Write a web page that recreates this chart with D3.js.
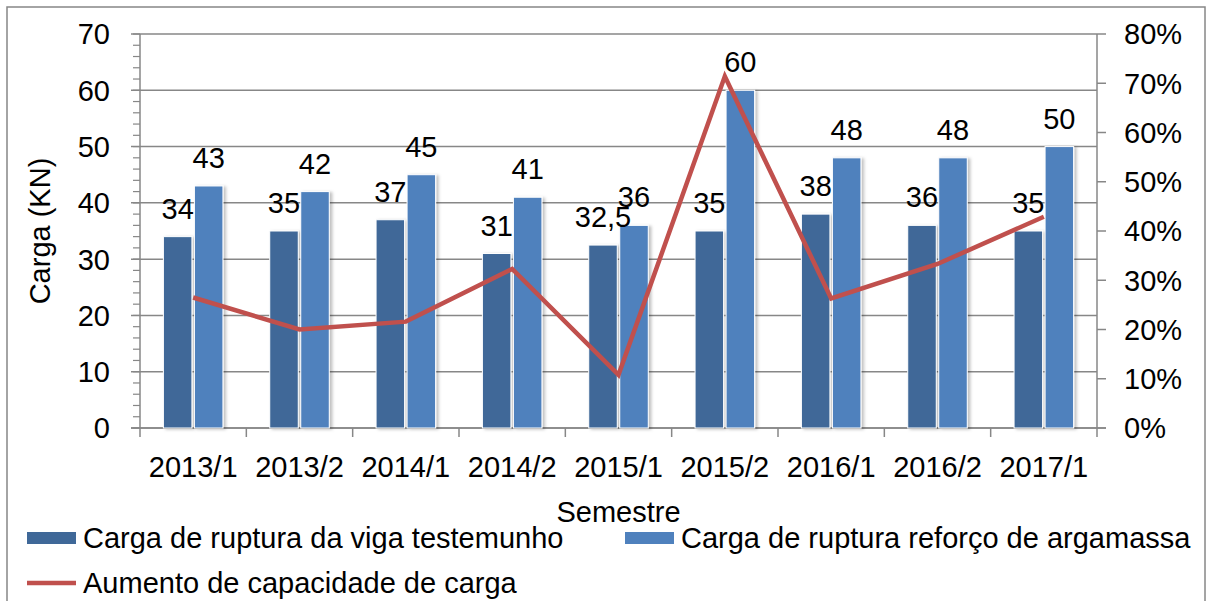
<!DOCTYPE html>
<html>
<head>
<meta charset="utf-8">
<script src="https://cdn.jsdelivr.net/npm/d3@7"></script>
<style>
  body { margin: 0; background: #fff; }
  text { font-family: "Liberation Sans", Arial, sans-serif; fill: #000; }
</style>
</head>
<body>
<svg id="chart" width="1208" height="601"></svg>
<script>
let semesters = ["2013/1", "2013/2", "2014/1", "2014/2", "2015/1", "2015/2", "2016/1", "2016/2", "2017/1"];
let cargaTestemunho = [34, 35, 37, 31, 32.5, 35, 38, 36, 35];
let cargaReforco = [43, 42, 45, 41, 36, 60, 48, 48, 50];
let aumentoCapacidade = [0.265, 0.20, 0.216, 0.323, 0.108, 0.714, 0.263, 0.333, 0.429];
let leftTicks = [0, 10, 20, 30, 40, 50, 60, 70];
let rightTicks = [0, 0.1, 0.2, 0.3, 0.4, 0.5, 0.6, 0.7, 0.8];
let seriesNames = ["Carga de ruptura da viga testemunho", "Carga de ruptura reforço de argamassa", "Aumento de capacidade de carga"];

let svg = d3.select("#chart");
let fontSize = 29;
let darkBlue = "#3F6898";
let lightBlue = "#4F81BD";
let red = "#C0504D";
let axisGrey = "#878787";

let plotLeft = 140, plotRight = 1097, plotTop = 34, plotBottom = 428;

let x = d3.scaleBand().domain(semesters).range([plotLeft, plotRight]);
let xSub = d3.scaleBand().domain(["t", "r"])
  .range([x.bandwidth() * 0.22, x.bandwidth() * 0.78])
  .paddingInner(0.08);
let y = d3.scaleLinear().domain([0, 70]).range([plotBottom, plotTop]);
let yRight = d3.scaleLinear().domain([0, 0.8]).range([plotBottom, plotTop]);

// shadow filter for bars
let defs = svg.append("defs");
defs.append("filter").attr("id", "shadow")
  .attr("x", "-20%").attr("y", "-5%").attr("width", "150%").attr("height", "115%")
  .append("feDropShadow")
  .attr("dx", 2.5).attr("dy", 1).attr("stdDeviation", 1.5)
  .attr("flood-color", "#000").attr("flood-opacity", 0.25);

// outer border
svg.append("rect")
  .attr("x", 7).attr("y", 7).attr("width", 1198).attr("height", 600)
  .attr("fill", "none").attr("stroke", axisGrey).attr("stroke-width", 1.5);

// gridlines
svg.append("g").selectAll("line")
  .data(leftTicks)
  .enter().append("line")
  .attr("x1", plotLeft - 9).attr("x2", plotRight)
  .attr("y1", d => y(d)).attr("y2", d => y(d))
  .attr("stroke", axisGrey).attr("stroke-width", 1.5);

// left minor ticks
svg.append("g").selectAll("line")
  .data(d3.range(0, 71, 2))
  .enter().append("line")
  .attr("x1", plotLeft - 7).attr("x2", plotLeft)
  .attr("y1", d => y(d)).attr("y2", d => y(d))
  .attr("stroke", axisGrey).attr("stroke-width", 1.2);

// axis lines
svg.append("line").attr("x1", plotLeft).attr("x2", plotLeft).attr("y1", plotTop).attr("y2", plotBottom + 9)
  .attr("stroke", axisGrey).attr("stroke-width", 1.5);
svg.append("line").attr("x1", plotRight).attr("x2", plotRight).attr("y1", plotTop).attr("y2", plotBottom + 9)
  .attr("stroke", axisGrey).attr("stroke-width", 1.5);
svg.append("line").attr("x1", plotLeft - 9).attr("x2", plotRight + 9).attr("y1", plotBottom).attr("y2", plotBottom)
  .attr("stroke", axisGrey).attr("stroke-width", 1.5);

// x ticks at category boundaries
svg.append("g").selectAll("line")
  .data(semesters.slice(1))
  .enter().append("line")
  .attr("x1", d => x(d)).attr("x2", d => x(d))
  .attr("y1", plotBottom).attr("y2", plotBottom + 9)
  .attr("stroke", axisGrey).attr("stroke-width", 1.5);

// right ticks
svg.append("g").selectAll("line")
  .data(rightTicks)
  .enter().append("line")
  .attr("x1", plotRight).attr("x2", plotRight + 9)
  .attr("y1", d => yRight(d)).attr("y2", d => yRight(d))
  .attr("stroke", axisGrey).attr("stroke-width", 1.5);

// bars
let groups = svg.append("g").selectAll("g")
  .data(semesters)
  .enter().append("g")
  .attr("transform", d => "translate(" + x(d) + ",0)");

groups.append("rect")
  .attr("x", xSub("t")).attr("width", xSub.bandwidth())
  .attr("y", (d, i) => y(cargaTestemunho[i]))
  .attr("height", (d, i) => plotBottom - y(cargaTestemunho[i]))
  .attr("fill", darkBlue).attr("stroke", "#fff").attr("stroke-width", 1)
  .attr("filter", "url(#shadow)");

groups.append("rect")
  .attr("x", xSub("r")).attr("width", xSub.bandwidth())
  .attr("y", (d, i) => y(cargaReforco[i]))
  .attr("height", (d, i) => plotBottom - y(cargaReforco[i]))
  .attr("fill", lightBlue).attr("stroke", "#fff").attr("stroke-width", 1)
  .attr("filter", "url(#shadow)");

// line
let line = d3.line()
  .x((d, i) => x(semesters[i]) + x.bandwidth() / 2)
  .y(d => yRight(d));

svg.append("path")
  .datum(aumentoCapacidade)
  .attr("d", line)
  .attr("fill", "none").attr("stroke", red).attr("stroke-width", 4.5)
  .attr("stroke-linejoin", "miter");

// data labels
let fmt = v => String(v).replace(".", ",");
groups.append("text")
  .attr("x", xSub("t") + xSub.bandwidth() / 2)
  .attr("y", (d, i) => y(cargaTestemunho[i]) - 18)
  .attr("text-anchor", "middle").style("font-size", fontSize + "px")
  .text((d, i) => fmt(cargaTestemunho[i]));

groups.append("text")
  .attr("x", xSub("r") + xSub.bandwidth() / 2)
  .attr("y", (d, i) => y(cargaReforco[i]) - 18)
  .attr("text-anchor", "middle").style("font-size", fontSize + "px")
  .text((d, i) => fmt(cargaReforco[i]));

// tick labels
svg.append("g").selectAll("text")
  .data(leftTicks)
  .enter().append("text")
  .attr("x", 110).attr("y", d => y(d)).attr("dy", "0.36em")
  .attr("text-anchor", "end").style("font-size", fontSize + "px")
  .text(d => d);

svg.append("g").selectAll("text")
  .data(rightTicks)
  .enter().append("text")
  .attr("x", 1124).attr("y", d => yRight(d)).attr("dy", "0.36em")
  .attr("text-anchor", "start").style("font-size", fontSize + "px")
  .text(d => d3.format(".0%")(d));

svg.append("g").selectAll("text")
  .data(semesters)
  .enter().append("text")
  .attr("x", d => x(d) + x.bandwidth() / 2).attr("y", 467).attr("dy", "0.36em")
  .attr("text-anchor", "middle").style("font-size", fontSize + "px")
  .text(d => d);

// axis titles
svg.append("text")
  .attr("transform", "translate(40," + ((plotTop + plotBottom) / 2) + ") rotate(-90)")
  .attr("dy", "0.36em")
  .attr("text-anchor", "middle").style("font-size", fontSize + "px")
  .text("Carga (KN)");

svg.append("text")
  .attr("x", (plotLeft + plotRight) / 2).attr("y", 512).attr("dy", "0.36em")
  .attr("text-anchor", "middle").style("font-size", fontSize + "px")
  .text("Semestre");

// legend
let legendItems = [
  { x: 27, y: 538, type: "rect", color: darkBlue, name: seriesNames[0] },
  { x: 625, y: 538, type: "rect", color: lightBlue, name: seriesNames[1] },
  { x: 27, y: 583, type: "line", color: red, name: seriesNames[2] }
];
let legend = svg.append("g").selectAll("g")
  .data(legendItems)
  .enter().append("g")
  .attr("transform", d => "translate(" + d.x + "," + d.y + ")");

legend.filter(d => d.type == "rect").append("rect")
  .attr("x", 0).attr("y", -6).attr("width", 49).attr("height", 12)
  .attr("fill", d => d.color);
legend.filter(d => d.type == "line").append("line")
  .attr("x1", 0).attr("x2", 49).attr("y1", 0).attr("y2", 0)
  .attr("stroke", d => d.color).attr("stroke-width", 4.5);
legend.append("text")
  .attr("x", 56).attr("y", 0).attr("dy", "0.36em")
  .style("font-size", fontSize + "px")
  .text(d => d.name);
</script>
</body>
</html>
